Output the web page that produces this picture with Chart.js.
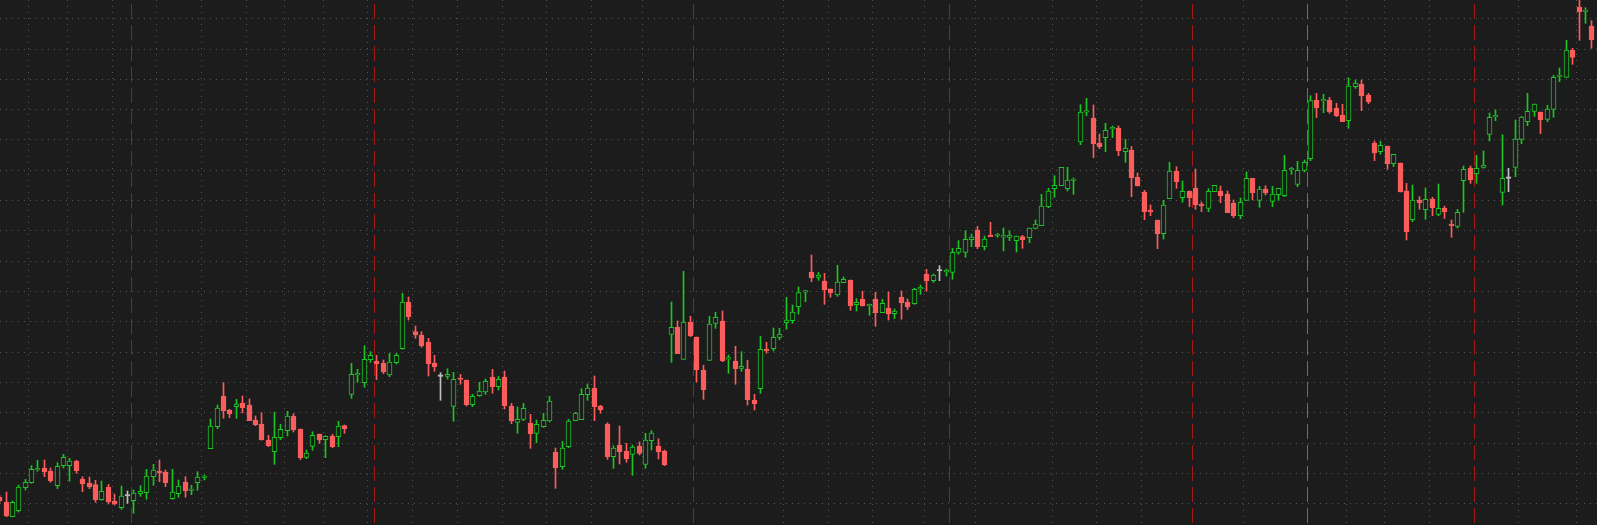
<!DOCTYPE html>
<html>
<head>
<meta charset="utf-8">
<script src="https://cdn.jsdelivr.net/npm/chart.js@4.4.1/dist/chart.umd.min.js"></script>
<style>
html,body{margin:0;padding:0;background:#1c1c1c;overflow:hidden}
#wrap{width:1597px;height:525px;position:relative}
</style>
</head>
<body>
<div id="wrap"><canvas id="c" width="1597" height="525"></canvas></div>
<script>
// OHLC per bar (bar index 0..249)
const opens = [
28,23,8.3,14.3,37.3,42.3,55,57,54,39.3,
59.3,59.3,64,46,42,40.3,25.3,38,24,17.3,
29,24.3,31.3,32.3,48.3,54,53,26.3,31.3,43,
34.5,42.3,47.5,76.3,98.3,129,115,118.3,122,120,
105,101,85,73.3,87.3,94.3,109,96,67.7,78.7,
91,85.3,89,88.3,99.3,130.7,150.1,142.3,165.3,164,
162,150,162.3,176.3,223,193.3,190,183,162,148.7,
148.7,118.7,145.9,145,120.3,129.3,133,148,138.3,148,
119,102.7,105.7,102,91.7,98.3,104,73,58.3,78.3,
104.3,105.3,130.3,137,119,101,68.3,80,74,70.7,
79,60.7,84.3,79,74,190.7,198,165.7,203,188,
155,164.7,201.7,204,165.8,164,156.7,156,125,136.3,
176,176.3,187.7,202.3,204.3,218.3,232.8,253,247.7,244,
236,230,242.3,245,220.3,226,219.1,226,212.3,217,
211.3,228,223,221.3,236.1,251,244.3,254,253.1,252.7,
272.7,272.7,285.3,295,278.3,290,289.5,287.8,287.7,284.3,
288.3,287.3,296.7,299.3,318.3,336.3,339.3,336.3,344.5,383,
412.8,407,382,387.3,396.1,397,373.3,375,347.7,333,
315,305,291.3,326.3,354,327.3,334,337,321,316.7,
333.3,334,331,322,309.3,324.7,346.7,324.7,336,323.7,
330.3,329.3,355.1,340.7,354.7,366.3,425,424.1,425,416.7,
410,404.3,438.3,441,430,382,373.3,379,361.3,362,
334,305.3,325,315.3,326,310.7,316.7,299.7,298.5,344.3,
357,351.3,357.7,390.7,408.1,332.7,346.7,357.7,385.7,403.3,
413.7,413,405.7,415.7,448.5,447.7,475,518,513.5,499
];
const highs = [
30,33,24,40,45.7,59.3,64.7,65,57,62.3,
70.7,66.7,64.7,48.3,48,44.7,44,40.7,31,39,
34,35,39.3,55.7,60.7,65,55,55.7,45,48.3,
39.7,53.3,50,106,120,142.3,115.7,125.7,129,126,
109,112.3,89.7,112.7,100.7,113.7,111.3,96,75,93.3,
91,89.3,90.7,103.7,100,161.7,155.7,179.3,173.3,169.7,
165,171.7,171.7,231.7,228,199,193.3,186.7,169.7,152.3,
156.3,152.7,150.7,145,130.7,142.7,146,155.7,148.7,154,
121.7,118,121.7,110.7,105,111.7,128.7,77,83.7,105.7,
112.7,136.3,141,149,119.7,102.3,79.3,99,81.7,80,
83,91.7,94.3,86.3,75,223,204,253.7,208.7,188,
159.7,208.7,212.7,214,170,178.7,173.3,164.7,130.7,188.7,
182.7,197,196.7,227.7,220,238,234.7,270,252.5,251.7,
236,259.7,248,245,226.3,233.7,221,232.7,225.7,233,
216,234,226,236.7,240,255.7,251,259.3,256,276.7,
284.3,294.3,291,298.7,289,302.7,291.7,297,294,289,
289.7,297,305,330.7,336.7,349.3,357.7,357.7,347,420.3,
426.7,420,391,401.7,399,399,385.7,378.5,352,334.7,
320,305,324.7,362.7,358.3,344,334,356,323,336.3,
339.7,339,334,325,327,353,346.7,338.7,339.3,338.7,
336.7,369.7,357.7,363.7,365,429.3,431.7,430.7,427.7,421.7,
420.7,447.3,445,445,431.7,384,383.7,379,370.7,362,
341.7,340,328.3,337,327.7,341,318.8,305,315.7,359,
359,369.7,374,412,415,390.3,356.7,405,408.7,431.7,
421,413,419.7,449.7,457,484.7,476.7,527,517.3,504.3
];
const lows = [
22,8.3,8.3,13,35,41.7,53.7,48.3,42.7,36.3,
57,43.7,51.7,33.3,36.3,22.7,24.7,21,20,15.7,
21.7,11.7,28.7,25.7,39.7,43.3,38.3,25.7,27.7,27.7,
30.3,34.7,45,76.3,96.3,106.7,107.3,106.7,112,104.3,
99.3,85,78.3,60.7,85.3,89,93,65.3,66.3,74.7,
81.7,67.3,77.3,78.3,91.7,126.7,142.7,137.7,162.7,145.3,
151.3,148.3,161,175.7,205,186.7,177.7,149,153.7,124.7,
146,103.7,140.7,119,118.3,128.7,130.7,131.7,135,116,
101.3,91.7,104.3,76.7,82.3,97.7,103,36.7,55.7,77.3,
104.3,105.3,124.7,104.3,111.7,65.7,56.7,61,62.7,49.7,
70,56.7,75,66,59.3,162.7,171.3,165.7,188.3,143,
125.7,164.7,196.7,163.3,151.7,140.7,153.7,120,115,131.7,
171.7,174,185.3,195.7,201.7,211,223.3,243.3,244.7,220.7,
227.7,228.7,242.3,214.7,214,219,209.7,198.7,212.3,205,
206.3,205.7,215.3,220.7,230.7,233.7,242.7,244.3,249,245.7,
270.7,267.7,278.3,276.3,275,288.3,287.7,274,284.3,273,
276.7,282.3,296,299.3,317.3,327.7,339.3,334,330.7,380.3,
409.3,367.3,376.3,373.3,387.3,369.3,362.7,328.3,339,305.3,
309.3,276.3,286,326.3,336.7,322.7,318.3,315.7,313.3,313.3,
333.3,322.3,312.3,307.3,306.3,324.3,325,317.7,330,318.3,
324.7,328.3,350.7,338.3,353,364.3,407.3,412.3,411.7,408.3,
403.3,396.7,436.7,414.3,421.3,364.3,370.7,355.7,358.3,333,
285,303.3,315.7,305.7,309.3,309.3,306.5,287.7,297,312.7,
341.7,341.7,356.7,384,404.3,320,333.3,348.3,381.3,399.3,
408.7,391.3,403.3,407.7,443.3,447.7,460.7,484.7,501.7,476.7
];
const closes = [
24,9,22.7,38,42.7,55.7,55.4,53,44.3,58.7,
67.7,64,54.3,41,38,25.3,33.7,23,21,29,
29,32,33.7,49,55,52,42.3,33,39,34.3,
34.9,48,47.9,99,117,114.3,111,121,117.3,104.3,
100.3,85,79.3,87.7,95.7,109,95,67.3,72,89.7,
85,88.7,78.3,99,96.3,150.7,150.5,165.7,169.7,161.3,
153,163,169.7,223,208.3,190,179,161.3,158.3,148.7,
150.7,145.7,145.5,120.3,128.7,134,143.7,138.3,145.7,119.3,
104,105.7,116.7,91.3,100.7,104.7,124,57.3,77,104,
112,130.7,137,118.3,115.3,68.3,77,73.3,66.3,78,
71.7,85,92,73.3,60,197.7,171.3,203,189.3,155.3,
135.3,201,207.7,164.3,166.2,156.3,158.7,125.3,121.3,175.7,
174.3,187.7,191,205,213,232.3,233.2,247,250,235.3,
232.3,243,245.7,219.3,222.7,219,219.5,212.3,221.7,211,
214,222.3,218,235.7,236.5,244.3,250,254,253.5,272.7,
276.7,285.7,288,278.3,286,288.3,289.9,288.2,290,289,
285.3,297,301,319,334,339.7,357.7,345,344.9,413,
413.2,381.3,378.3,394.7,396.5,374.3,377,347.3,339,313.3,
313,291.3,320,354,343.3,333.7,327,320,319,333.7,
339.7,329,312.3,309.3,322.7,346.7,332.3,336,332,331,
336.7,354.7,355.5,354.7,362.7,424.3,417.3,424.5,413,409.3,
403.3,439,442,429.3,423,372,379.7,361.3,370.7,333,
293,325,322,325.7,317.3,316.7,313,299.3,312.7,355.7,
345,356.7,360,407.7,408.5,346.7,346.7,386,408,413.7,
421,405.3,416,447.7,448.9,475,467.7,513.3,513.9,485.3
];
// vertical separators / grid positions in bar-index units
const sessionBreaks = [20.5, 58.5, 108.5, 148.5, 186.5, 230.5];
const markerBreaks = [204.5];
const timeGridLines = [4.5,10.5,17.5,24.5,31.5,38.5,44.5,50.5,57.5,64.5,71.5,78.5,85.5,92.5,100.5,
  122.5,129.5,136.5,144.5,152.5,164.5,171.5,178.5,194.5,210.5,216.5,223.5,237.5,246.5];
// horizontal grid price levels
const priceGridLines = [506.7,476.4,446.1,415.8,385.5,355.2,324.8,294.5,264.2,233.9,203.6,173.3,143.0,112.7,82.4,52.1,21.7];

const BG = '#1c1c1c', UP = '#1cc424', DOWN = '#fb5d5d', FLAT = '#c0c0c0';
const GRID = '#545454', SESSION = '#a51818', MARKER = '#6e6e6e';

function colorOf(i){
  if (closes[i] > opens[i]) return UP;
  if (closes[i] < opens[i]) return DOWN;
  return FLAT;
}
const idx = opens.map((_, i) => i);

// snap bar centres to pixel centres so 1px wicks stay crisp
const snapPlugin = {
  id: 'snap',
  afterDatasetsUpdate(chart){
    chart.data.datasets.forEach((ds, di) => {
      chart.getDatasetMeta(di).data.forEach(el => { el.x = Math.floor(el.x) + 0.5; });
    });
  }
};

const gridPlugin = {
  id: 'bgGrid',
  beforeDraw(chart){
    const {ctx, width, height} = chart;
    ctx.save(); ctx.fillStyle = BG; ctx.fillRect(0,0,width,height); ctx.restore();
  },
  beforeDatasetsDraw(chart){
    const {ctx, chartArea: a, scales: {x, y}} = chart;
    ctx.save();
    ctx.lineWidth = 1;
    ctx.strokeStyle = GRID;
    ctx.setLineDash([1,5]);
    priceGridLines.forEach(v => {
      const py = Math.round(y.getPixelForValue(v)) + 0.5;
      ctx.beginPath(); ctx.moveTo(a.left, py); ctx.lineTo(a.right, py); ctx.stroke();
    });
    timeGridLines.forEach(v => {
      const px = Math.round(x.getPixelForValue(v)) + 0.5;
      ctx.beginPath(); ctx.moveTo(px, a.top); ctx.lineTo(px, a.bottom); ctx.stroke();
    });
    ctx.setLineDash([15,6]);
    ctx.strokeStyle = SESSION;
    sessionBreaks.forEach(v => {
      const px = Math.round(x.getPixelForValue(v)) + 0.5;
      ctx.beginPath(); ctx.moveTo(px, a.top + 4); ctx.lineTo(px, a.bottom); ctx.stroke();
    });
    ctx.strokeStyle = MARKER;
    markerBreaks.forEach(v => {
      const px = Math.round(x.getPixelForValue(v)) + 0.5;
      ctx.beginPath(); ctx.moveTo(px, a.top + 4); ctx.lineTo(px, a.bottom); ctx.stroke();
    });
    ctx.restore();
  }
};

new Chart(document.getElementById('c'), {
  type: 'bar',
  data: {
    datasets: [
      {
        label: 'wick',
        data: idx.map(i => ({x: i, y: [lows[i], highs[i]]})),
        backgroundColor: idx.map(colorOf),
        borderWidth: 0,
        barThickness: 1,
        grouped: false,
        order: 2
      },
      {
        label: 'body',
        data: idx.map(i => ({x: i, y: [opens[i], closes[i]]})),
        backgroundColor: idx.map(i => closes[i] > opens[i] ? BG : colorOf(i)),
        borderColor: idx.map(colorOf),
        borderWidth: 1,
        borderSkipped: false,
        barThickness: 5,
        minBarLength: 1.5,
        grouped: false,
        order: 1
      }
    ]
  },
  options: {
    responsive: false,
    animation: false,
    events: [],
    layout: {padding: 0},
    plugins: {legend: {display: false}, tooltip: {enabled: false}},
    scales: {
      x: {type: 'linear', min: 0.06, max: 249.8, offset: false, display: false},
      y: {type: 'linear', min: 0, max: 525, display: false}
    }
  },
  plugins: [snapPlugin, gridPlugin]
});
</script>
</body>
</html>
